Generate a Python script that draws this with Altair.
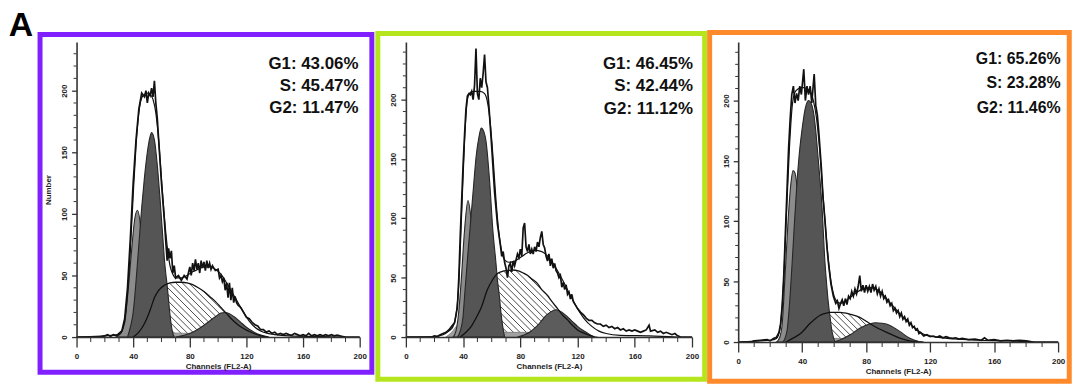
import altair as alt
import pandas as pd
import numpy as np

FONT = "Liberation Sans"

# ---------------- axis ticks ----------------
X_MAJOR = [0, 40, 80, 120, 160, 200]
X_MINOR = [10, 20, 30, 50, 60, 70, 90, 100, 110, 130, 140, 150, 170, 180, 190]
Y_MAJOR = [0, 50, 100, 150, 200]
Y_MINOR = [10, 20, 30, 40, 60, 70, 80, 90, 110, 120, 130, 140, 160, 170, 180, 190,
           210, 220, 230, 240]

# ---------------- panel 1 (channel, count) ----------------
P1_LABELS = ["G1: 43.06%", "S: 45.47%", "G2: 11.47%"]
P1_HIST = [(0, 0), (16, 0), (20, 1), (22, 2), (24, 0.5), (26, 2), (28, 1), (30, 3), (32, 5), (34, 15),
           (36, 40), (38, 80), (40, 125), (42, 160), (44, 185), (46, 198), (48, 195), (49, 200), (50, 190),
           (51, 198), (52, 196), (53, 202), (54, 195), (55, 208), (56, 190), (57, 178), (58, 160), (60, 125),
           (62, 95), (63, 78), (64, 62), (65, 72), (66, 64), (67, 70), (68, 52), (69, 58), (70, 48), (72, 50),
           (74, 46), (76, 50), (78, 47), (80, 57), (81, 50), (82, 60), (83, 54), (84, 63), (85, 55), (86, 60),
           (87, 52), (88, 62), (89, 56), (90, 61), (91, 54), (92, 62), (93, 56), (94, 60), (95, 55), (96, 58),
           (98, 54), (100, 55), (101, 48), (102, 50), (103, 45), (104, 48), (105, 38), (106, 44), (107, 32),
           (108, 44), (109, 30), (110, 40), (111, 28), (112, 33), (113, 28), (114, 26), (116, 24), (118, 20),
           (120, 16), (122, 15), (124, 12), (126, 10), (128, 9), (130, 6), (132, 6), (134, 4), (136, 5),
           (138, 3), (140, 4), (142, 2), (144, 3), (146, 2), (148, 3), (150, 2), (152, 1.5), (154, 3),
           (156, 2), (158, 1), (160, 2), (162, 1), (164, 3), (166, 1), (168, 2), (170, 1), (172, 2), (174, 1),
           (176, 2), (178, 1), (180, 2), (182, 1), (184, 1.5), (186, 1), (188, 0.5), (190, 0), (200, 0)]
P1_MODEL = [(0, 0), (30, 2), (34, 12), (36, 35), (38, 70), (40, 115), (42, 155), (44, 182), (46, 194),
            (48, 197), (50, 198), (52, 197), (54, 193), (56, 182), (58, 160), (60, 128), (62, 98), (64, 74),
            (66, 58), (68, 51), (70, 48), (74, 48), (78, 50), (82, 53), (86, 55), (90, 57), (94, 57), (98, 55),
            (102, 51), (106, 44), (110, 36), (114, 28), (118, 20), (122, 13), (126, 8), (130, 5), (135, 3),
            (140, 2), (150, 1), (170, 0.5), (190, 0)]
P1_G1B = [(28, 0), (32, 5), (35, 22), (37, 45), (39, 72), (41, 95), (43, 103), (45, 92), (47, 62), (49, 32),
          (51, 13), (53, 5), (55, 2), (57, 0)]
P1_LOW = [(34, 0), (38, 4), (44, 6), (50, 5), (60, 4), (80, 3), (100, 3), (120, 2), (130, 1), (135, 0)]
P1_G1 = [(36, 0), (38, 8), (40, 20), (42, 45), (44, 75), (46, 105), (48, 130), (50, 150), (52, 163), (53, 166),
         (55, 160), (57, 140), (59, 112), (61, 80), (62, 64), (63, 52), (64, 42), (65, 30), (66, 18), (67, 9),
         (68, 3), (69, 0)]
P1_S = [(40, 0), (44, 4), (48, 11), (52, 22), (55, 32), (58, 38), (62, 42), (66, 44), (70, 44.5), (74, 44.5),
        (78, 44), (82, 42.5), (86, 40), (90, 37), (94, 33), (98, 29), (102, 24), (106, 19), (110, 14),
        (114, 10), (118, 7), (122, 4.5), (126, 2.5), (130, 1), (135, 0)]
P1_G2 = [(70, 0), (76, 1.5), (82, 4), (88, 8), (94, 13), (98, 16.5), (102, 19.5), (105, 20), (108, 19),
         (112, 16), (116, 12), (120, 8), (124, 5), (128, 2.5), (132, 1), (136, 0)]

# ---------------- panel 2 ----------------
P2_LABELS = ["G1: 46.45%", "S: 42.44%", "G2: 11.12%"]
P2_HIST = [(0, 0), (18, 0), (20, 1), (22, 0.5), (24, 2), (26, 3), (28, 4), (30, 6), (32, 9), (34, 12),
           (36, 25), (37, 50), (38, 85), (39, 115), (40, 145), (41, 170), (42, 192), (43, 203), (44, 205),
           (45, 204), (46, 207), (47, 200), (48, 212), (49, 243), (50, 205), (51, 200), (52, 218), (53, 210),
           (54, 222), (55, 238), (56, 215), (57, 210), (58, 195), (60, 160), (62, 122), (64, 95), (66, 78),
           (67, 68), (68, 72), (69, 63), (70, 58), (71, 50), (72, 60), (73, 62), (74, 55), (75, 64), (76, 60),
           (77, 65), (78, 70), (79, 67), (80, 74), (81, 68), (82, 92), (83, 96), (84, 76), (85, 72), (86, 78),
           (87, 70), (88, 74), (89, 70), (90, 76), (91, 72), (92, 80), (93, 76), (94, 84), (95, 89), (96, 78),
           (97, 75), (98, 68), (99, 64), (100, 70), (101, 60), (102, 66), (103, 58), (104, 62), (105, 56),
           (106, 54), (107, 50), (108, 52), (109, 42), (110, 46), (111, 40), (112, 44), (113, 36), (114, 38),
           (115, 32), (116, 36), (117, 30), (118, 28), (120, 24), (122, 21), (124, 19), (126, 16), (128, 14),
           (130, 14), (132, 12), (134, 11), (136, 11), (138, 9), (140, 10), (142, 8), (144, 9), (146, 7),
           (148, 8), (150, 6), (152, 7), (154, 5), (156, 6), (158, 5), (160, 6), (162, 5), (164, 4), (166, 5),
           (168, 6), (170, 10), (171, 5), (174, 6), (176, 4), (178, 5), (180, 3), (182, 4), (184, 3), (186, 2),
           (188, 3), (190, 1), (192, 0), (200, 0)]
P2_MODEL = [(0, 0), (20, 0.5), (26, 2), (30, 5), (33, 9), (35, 18), (37, 45), (39, 105), (41, 165), (43, 200),
            (45, 206), (48, 207), (52, 207), (55, 205), (57, 198), (59, 180), (61, 150), (63, 115), (65, 88),
            (67, 72), (69, 65), (72, 63), (76, 64), (80, 67), (85, 71), (90, 73), (95, 72), (100, 67),
            (105, 58), (110, 47), (115, 35), (120, 24), (125, 15), (130, 9), (135, 5), (140, 3), (150, 1.5),
            (170, 1), (190, 0)]
P2_G1B = [(33, 0), (35, 5), (37, 22), (38.7, 48), (41, 90), (43.4, 115), (45.5, 100), (48, 62), (50.3, 34),
          (52, 18), (54, 8), (56, 3), (58, 0)]
P2_LOW = [(28, 0), (32, 4), (36, 10), (40, 12), (46, 13), (52, 12), (58, 9), (62, 6), (70, 4), (90, 4),
          (100, 5), (110, 4), (120, 3), (128, 1.5), (134, 0)]
P2_G1 = [(36, 0), (38, 5), (40, 18), (41, 34), (43, 65), (45.7, 104), (47.5, 130), (49, 151), (51, 168),
         (52.7, 176), (54.5, 173), (56, 165), (58.5, 132), (60.8, 90), (63, 62), (64, 48), (65.4, 34),
         (66.5, 20), (67.7, 9), (69, 0)]
P2_S = [(38, 0), (42, 4), (45.7, 9), (49, 16), (52.7, 25), (57, 40), (60, 47), (64, 53.5), (68, 55.5),
        (71, 56), (75, 56.5), (78, 56), (82, 54), (85, 52), (88, 49), (92, 45), (95, 40), (99, 35), (102, 30),
        (106, 24), (110, 18), (113, 14.5), (116, 10.5), (120, 6), (124, 3.5), (127, 2), (132, 0)]
P2_G2 = [(78, 0), (83, 2), (87, 4.5), (90, 7.5), (94, 12.5), (97, 17), (101, 21), (105, 23), (109, 21),
         (113, 17), (116.5, 13), (120, 9), (124, 5.5), (127, 3.3), (131.5, 0)]

# ---------------- panel 3 ----------------
P3_LABELS = ["G1: 65.26%", "S: 23.28%", "G2: 11.46%"]
P3_HIST = [(0, 0), (8, 0), (10, 1), (14, 1.5), (18, 2), (20, 1), (22, 3), (24, 4), (25.5, 8), (26.5, 15),
           (27.5, 30), (28.5, 55), (29.5, 90), (30.5, 125), (31.5, 160), (32.5, 185), (33.5, 205), (34.5, 212),
           (35.5, 198), (36.5, 206), (37.5, 200), (38.5, 212), (39.5, 205), (41, 226), (42, 200), (43, 212),
           (44, 205), (45, 212), (46, 198), (47.5, 222), (48.5, 196), (49.5, 188), (50.5, 172), (52, 144),
           (53, 120), (54.3, 100), (55.5, 78), (56.5, 65), (58, 48), (59.5, 38), (61, 32), (62, 34), (63, 28),
           (64, 32), (65, 35), (66, 30), (67, 36), (68, 31), (69, 38), (70, 36), (71, 42), (72, 38), (73, 44),
           (74, 40), (75, 46), (76, 55), (77, 42), (78, 47), (79, 41), (80, 47), (81, 42), (82, 46), (83, 41),
           (84, 48), (85, 43), (86, 46), (87, 40), (88, 44), (89, 38), (90, 42), (91, 36), (92, 38), (93, 33),
           (94, 35), (95, 30), (96, 32), (97, 26), (98, 28), (99, 24), (100, 26), (101, 21), (102, 24),
           (103, 19), (104, 21), (105, 17), (106, 19), (107, 14), (108, 16), (109, 12), (110, 13), (111, 10),
           (112, 11), (113, 7), (114, 8), (116, 5), (118, 6), (120, 4.5), (122, 5), (124, 4), (126, 5),
           (128, 3.5), (130, 4.5), (132, 3.5), (134, 3), (136, 3.5), (138, 2.5), (140, 3), (144, 2), (148, 2.5),
           (152, 1.5), (154, 3.5), (156, 1.5), (160, 2), (164, 1), (168, 1.5), (172, 1), (176, 1.5), (180, 1),
           (182, 0.5), (184, 0), (200, 0)]
P3_MODEL = [(0, 0), (14, 1), (20, 1.5), (24, 3), (26, 10), (28, 40), (30, 100), (32, 160), (34, 198),
            (36, 208), (40, 211), (44, 209), (47, 200), (49, 185), (51, 158), (53, 122), (55, 88), (57, 60),
            (59, 43), (61, 35), (64, 32), (67, 34), (70, 37), (74, 41), (78, 44), (82, 45), (86, 44), (90, 40),
            (94, 34), (98, 28), (102, 22), (106, 17), (110, 12), (114, 8), (118, 5.5), (122, 4.5), (128, 3.5),
            (135, 2.5), (150, 1.5), (170, 1), (185, 0)]
P3_G1B = [(24, 0), (26, 4), (27.5, 15), (29.5, 60), (31.6, 109), (33, 132), (34.3, 142), (35.5, 140),
          (37, 126), (39, 92), (41, 51), (43, 24), (45, 8), (47, 2), (49, 0)]
P3_LOW = [(26, 0), (30, 3), (36, 5), (44, 5), (52, 4), (60, 3), (80, 3), (100, 2), (110, 1), (115, 0)]
P3_G1 = [(28, 0), (30.6, 10), (32, 30), (33.7, 65), (35, 95), (36.8, 133), (38.5, 160), (40, 177), (42, 194),
         (44, 200), (45.5, 198), (47, 191), (48.5, 175), (50, 152), (52.3, 114), (54.3, 65), (55.5, 45),
         (56.4, 32), (57.5, 20), (58.5, 10), (59.5, 4), (60.5, 0)]
P3_S = [(30, 0), (34, 3), (39, 7), (45, 15.5), (51, 22), (55, 24), (57.5, 24.5), (63.6, 24.5), (70, 23),
        (76, 20.5), (82, 15.6), (88, 11), (94.6, 7), (101, 3.3), (107, 1), (112, 0)]
P3_G2 = [(60, 0), (64, 2), (70, 6), (76, 11.5), (82, 15), (86, 16), (90, 15.5), (94.6, 14), (101, 8.8),
         (107, 3.3), (113, 0.5), (116, 0)]

# ---------------- layout / style (not data) ----------------
PANELS = [
    dict(hist=P1_HIST, model=P1_MODEL, g1b=P1_G1B, low=P1_LOW, g1=P1_G1, s=P1_S, g2=P1_G2, labels=P1_LABELS,
         W=285, H=297, ymax=239.5, color="#8020FF", border=(-36.75, 297.25, -7.5, 332.5),
         tx=283.75, ty=[27.3, 49.3, 71.7], fs=17, slope=1.149, step=4.56, ytitle="Number", letter=True),
    dict(hist=P2_HIST, model=P2_MODEL, g1b=P2_G1B, low=P2_LOW, g1=P2_G1, s=P2_S, g2=P2_G2, labels=P2_LABELS,
         W=288, H=297, ymax=248.5, color="#B5E61D", border=(-28.25, 300.75, -8.5, 339.5),
         tx=289, ty=[27.3, 49.3, 72], fs=17, slope=1.205, step=4.5, ytitle="", letter=False),
    dict(hist=P3_HIST, model=P3_MODEL, g1b=P3_G1B, low=P3_LOW, g1=P3_G1, s=P3_S, g2=P3_G2, labels=P3_LABELS,
         W=322, H=302, ymax=248.5, color="#FF8A2B", border=(-28.75, 333.25, -9.5, 341.5),
         tx=324.5, ty=[22.3, 46.7, 71.7], fs=16, slope=1.325, step=4.04, ytitle="", letter=False),
]

AX = "#333333"
DUMMY = pd.DataFrame({"k": [0]})


def pts(pairs):
    return pd.DataFrame(pairs, columns=["ch", "n"])


def hatch(pairs, slope, step):
    xs = np.array([p[0] for p in pairs], float)
    ys = np.array([p[1] for p in pairs], float)
    rows = []
    b = xs.min()
    while b <= xs.max() + 40:
        t = np.linspace(b - 120, b, 2400)
        line = slope * (b - t)
        curve = np.interp(t, xs, ys, left=0, right=0)
        idx = np.where(line < curve)[0]
        if idx.size:
            cuts = np.where(np.diff(idx) > 1)[0]
            starts = np.r_[idx[0], idx[cuts + 1]]
            ends = np.r_[idx[cuts], idx[-1]]
            for s, e in zip(starts, ends):
                if e - s > 2:
                    rows.append(dict(ch=t[s], n=line[s], ch2=t[e], n2=line[e]))
        b += step
    return pd.DataFrame(rows)


def panel(d):
    W, H = d["W"], d["H"]
    xs = alt.Scale(domain=[0, 200], nice=False, zero=False)
    ys = alt.Scale(domain=[0, d["ymax"]], nice=False, zero=False)

    yaxis = alt.Axis(values=Y_MAJOR, labelAngle=270, labelAlign="center", labelBaseline="bottom",
                     tickSize=5, labelPadding=3, labelFontSize=8, labelFontWeight="bold",
                     labelFont=FONT, grid=False, domainWidth=1.6, domainColor=AX, tickColor=AX,
                     tickWidth=1.3, labelColor="#222", zindex=1, labelOverlap=False,
                     title=d["ytitle"], titleFontSize=8, titleFontWeight="bold", titleFont=FONT,
                     titleColor="#222", titlePadding=8)
    xaxis = alt.Axis(values=X_MAJOR, title="Channels (FL2-A)", tickSize=10, labelPadding=6,
                     titlePadding=2, labelFontSize=8, titleFontSize=8, labelFontWeight="bold",
                     titleFontWeight="bold", labelFont=FONT, titleFont=FONT, grid=False,
                     domainWidth=1.6, domainColor=AX, tickColor=AX, tickWidth=1.3,
                     labelColor="#222", titleColor="#222", labelFlush=False, zindex=1,
                     labelOverlap=False)
    X = alt.X("ch:Q", scale=xs, axis=xaxis)
    Y = alt.Y("n:Q", scale=ys, axis=yaxis)

    def area(pairs, fill, stroke="#262626", sw=1.1):
        return alt.Chart(pts(pairs)).mark_area(
            fill=fill, interpolate="monotone", stroke=stroke, strokeWidth=sw
        ).encode(x=X, y=Y)

    def curve(pairs, color, width, interp):
        return alt.Chart(pts(pairs)).mark_line(
            color=color, strokeWidth=width, interpolate=interp
        ).encode(x=X, y=Y)

    hd = hatch(d["s"], d["slope"], d["step"])
    hatch_layer = alt.Chart(hd).mark_rule(color="#4a4a4a", strokeWidth=1).encode(
        x=X, y=Y, x2="ch2:Q", y2="n2:Q")

    ymin = alt.Chart(pd.DataFrame({"n": [v for v in Y_MINOR if v <= d["ymax"]]})).mark_rule(
        color=AX, strokeWidth=1).encode(y=Y, x=alt.value(-3), x2=alt.value(0))
    xmin = alt.Chart(pd.DataFrame({"ch": X_MINOR})).mark_rule(color=AX, strokeWidth=1).encode(
        x=X, y=alt.value(H), y2=alt.value(H + 5))

    layers = [
        area(d["s"], "#ffffff", "#ffffff", 0.5),
        hatch_layer,
        area(d["low"], "#a0a0a0", "#777777", 0.8),
        area(d["g2"], "#5c5c5c"),
        area(d["g1b"], "#8c8c8c"),
        area(d["g1"], "#555555"),
        curve(d["s"], "#111111", 1.3, "monotone"),
        curve(d["model"], "#111111", 1.2, "monotone"),
        curve(d["hist"], "#111111", 1.7, "linear"),
        ymin,
        xmin,
    ]
    for lab, yb in zip(d["labels"], d["ty"]):
        layers.append(alt.Chart(DUMMY).mark_text(
            text=lab, align="right", baseline="alphabetic", fontSize=d["fs"], fontWeight="bold",
            font=FONT, color="#111111").encode(x=alt.value(d["tx"]), y=alt.value(yb)))
    bx1, bx2, by1, by2 = d["border"]
    layers.append(alt.Chart(DUMMY).mark_rect(fillOpacity=0, stroke=d["color"], strokeWidth=5).encode(
        x=alt.value(bx1), x2=alt.value(bx2), y=alt.value(by1), y2=alt.value(by2)))
    if d["letter"]:
        layers.append(alt.Chart(DUMMY).mark_text(
            text="A", align="left", baseline="top", fontSize=34, fontWeight="bold", font=FONT,
            color="#000000").encode(x=alt.value(-68.25), y=alt.value(-33)))
    return alt.layer(*layers).properties(width=W, height=H)


chart = alt.hconcat(*[panel(p) for p in PANELS], spacing=46.5, bounds="flush").properties(
    padding=0, background="#ffffff"
).configure_view(stroke=None)

chart.save("out.html", embed_options={"renderer": "svg", "actions": False})
